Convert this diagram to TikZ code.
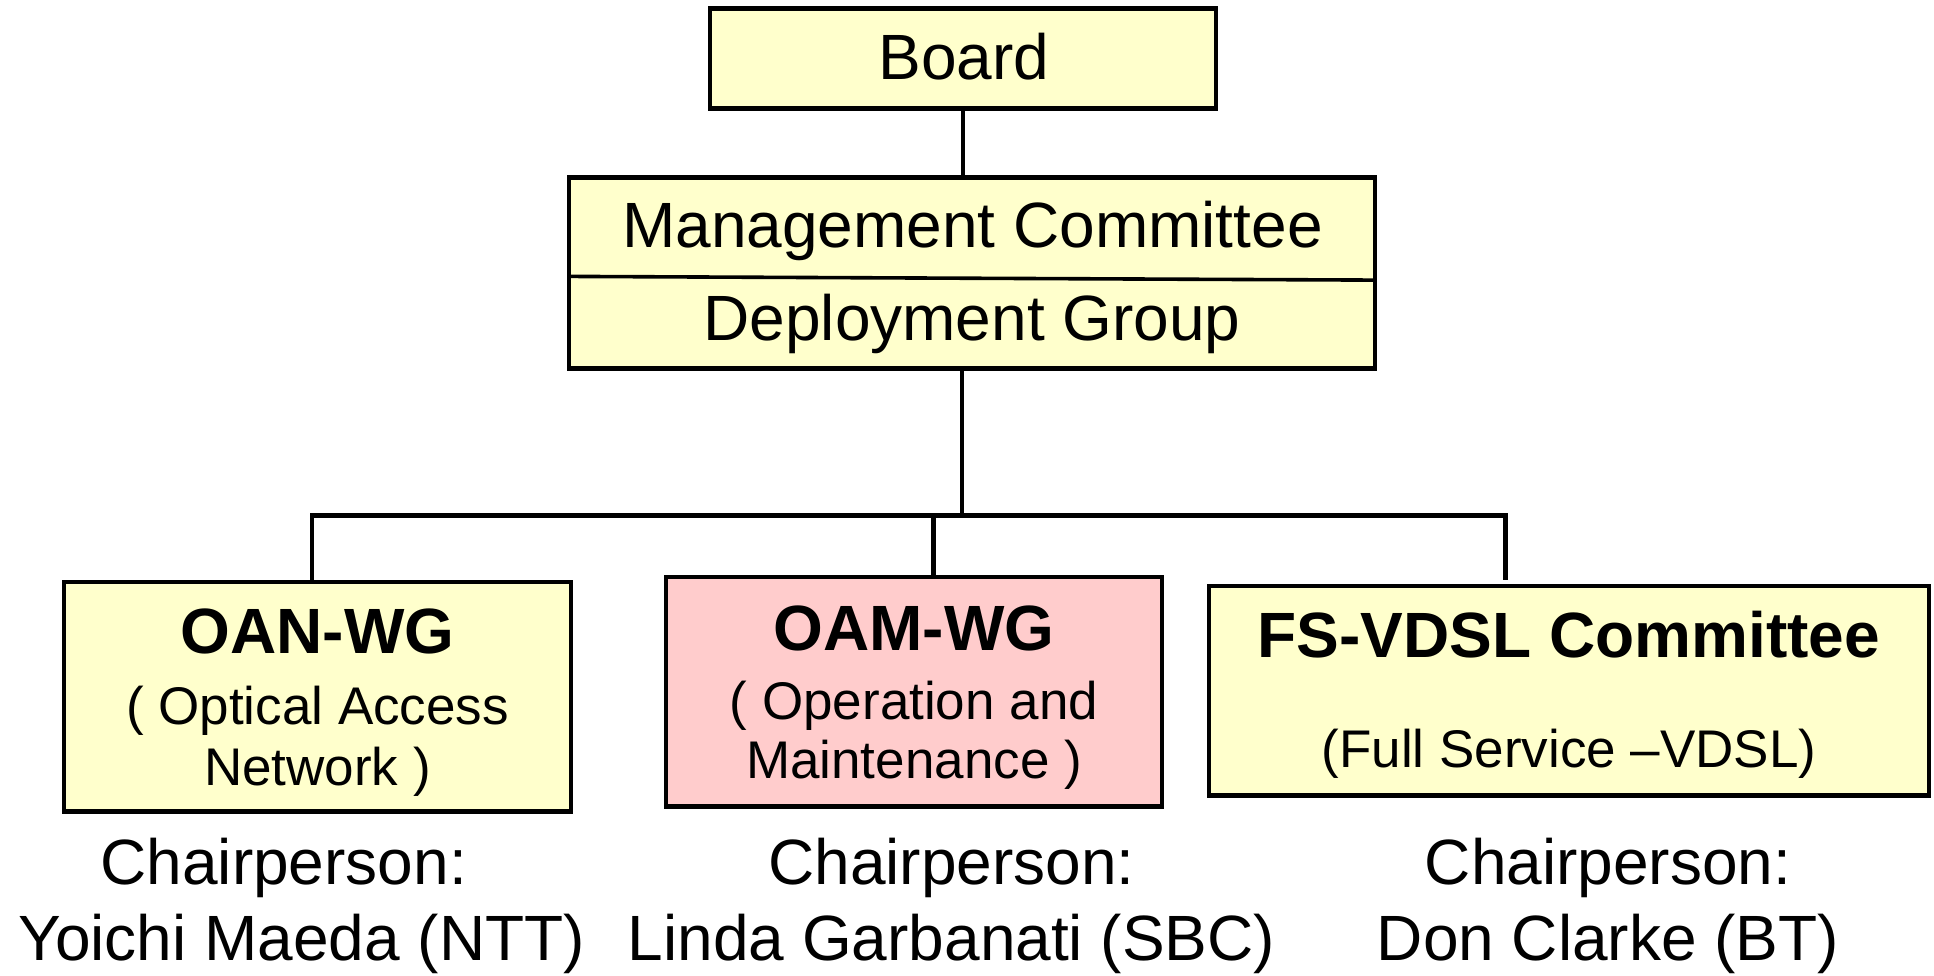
\documentclass[tikz,border=0pt]{standalone}
\usepackage{fontspec}
\setmainfont{Liberation Sans}
\definecolor{boxyellow}{HTML}{FFFFCC}
\definecolor{boxpink}{HTML}{FFCCCC}
\begin{document}
\begin{tikzpicture}[x=1pt,y=-1pt,
  unit/.style={draw=black, line width=4.8pt, fill=boxyellow, inner sep=0pt, outer sep=0pt, anchor=center},
  link/.style={line width=4.6pt},
  big/.style={font=\fontsize{64}{70}\selectfont, anchor=base, inner sep=0pt},
  bigb/.style={font=\fontsize{64}{70}\selectfont\bfseries, anchor=base, inner sep=0pt},
  small/.style={font=\fontsize{53}{60}\selectfont, anchor=base, inner sep=0pt}]
\useasboundingbox (0,0) rectangle (1934,975);

% boxes
\node[unit, minimum width=506pt, minimum height=100pt] (board) at (963,58.5) {};
\node[unit, minimum width=806pt, minimum height=191pt] (mc) at (972,273.2) {};
\node[unit, minimum width=507pt, minimum height=229.6pt] (oan) at (317.5,696.8) {};
\node[unit, fill=boxpink, minimum width=496pt, minimum height=229.6pt] (oam) at (914,691.8) {};
\node[unit, minimum width=720pt, minimum height=209.5pt] (fs) at (1569,690.75) {};

% divider inside the management box
\draw[line width=3.6pt] ([yshift=-98.7pt]mc.north west) -- ([yshift=-102.4pt]mc.north east);

% box texts
\node[big] (tboard) at (964,79) {Board};
\node[big] (tmc) at (972.5,247) {Management Committee};
\node[big] (tdg) at (972,340.4) {Deployment Group};

\node[bigb]  (toan1) at (317.5,653.7) {OAN-WG};
\node[small] (toan2) at (317.5,724.5) {( Optical Access};
\node[small] (toan3) at (317.5,785) {Network )};

\node[bigb]  (toam1) at (914,650) {OAM-WG};
\node[small] (toam2) at (914,719.6) {( Operation and};
\node[small] (toam3) at (914,778.8) {Maintenance )};

\node[bigb]  (tfs1) at (1569,657.4) {FS-VDSL Committee};
\node[small] (tfs2) at (1569,767.7) {(Full Service –VDSL)};

% chairpersons
\node[big] (c1a) at (283.7,884) {Chairperson:};
\node[big] (c1b) at (301.6,960.5) {Yoichi Maeda (NTT)};
\node[big] (c2a) at (951.6,884) {Chairperson:};
\node[big] (c2b) at (951.6,960.5) {Linda Garbanati (SBC)};
\node[big] (c3a) at (1608,884) {Chairperson:};
\node[big] (c3b) at (1608,960.5) {Don Clarke (BT)};

% connectors
\coordinate (hub)  at (962,515.6);
\coordinate (busL) at (312,515.6);
\coordinate (busM) at (933.7,515.6);
\coordinate (busR) at (1505.5,515.6);
\coordinate (fsend) at (1505.5,579.7);

\draw[link] (board.south) -- (board.south |- mc.north);
\draw[link] (hub |- mc.south) -- (hub);
\draw[link] (busL |- oan.north) -- (busL) -- (busR) -- (fsend);
\draw[link] (busM) -- (busM |- oam.north);
\end{tikzpicture}
\end{document}
